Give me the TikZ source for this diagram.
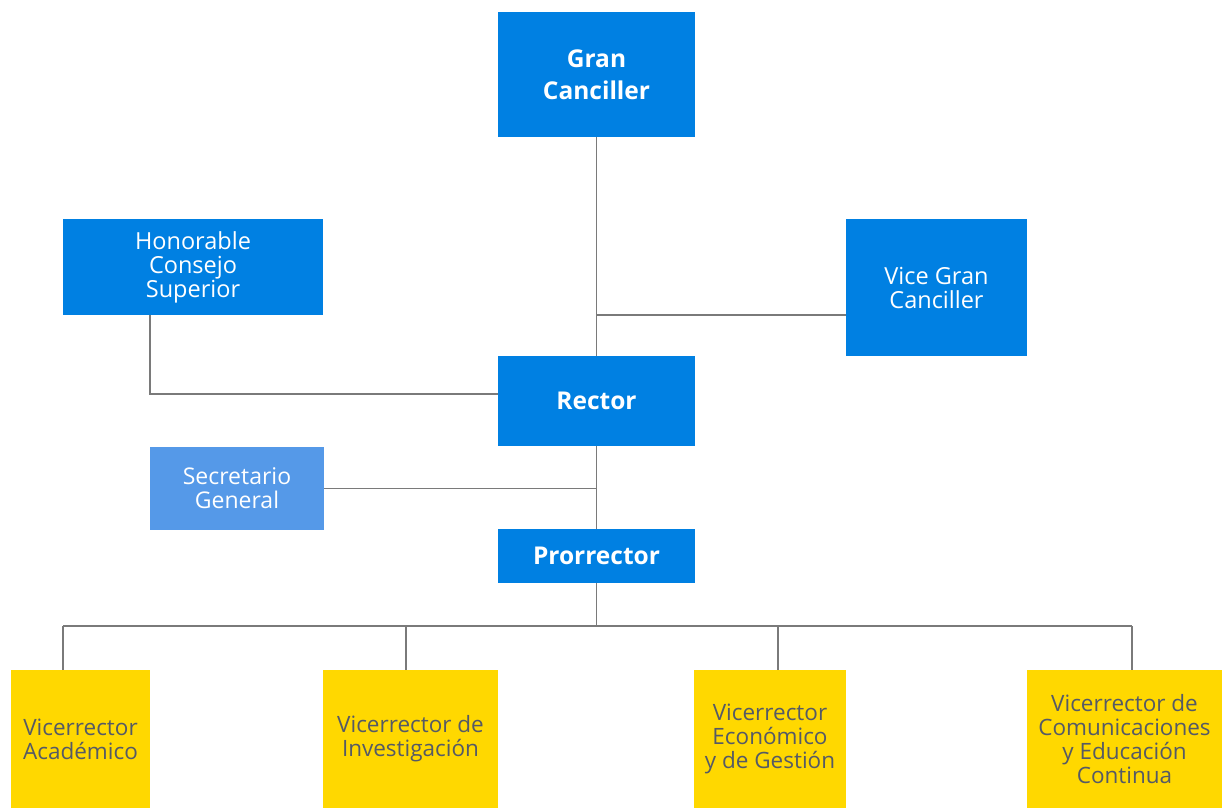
\documentclass[tikz,border=0pt]{standalone}
\usepackage{fontspec}
\setmainfont{Open Sans}
\usetikzlibrary{positioning}
\definecolor{ucblue}{HTML}{0080E2}
\definecolor{uclight}{HTML}{5599E8}
\definecolor{ucyellow}{HTML}{FFD800}
\definecolor{uctext}{HTML}{555A66}
\definecolor{ucline}{HTML}{7A7A7A}
\tikzstyle{blueblock}=[rectangle, fill=ucblue, text=white, align=center, inner sep=0pt, font=\fontsize{23.5}{24}\selectfont]
\tikzstyle{boldblock}=[blueblock, font=\fontsize{24.5}{32}\selectfont\bfseries]
\tikzstyle{lightblock}=[blueblock, fill=uclight, font=\fontsize{23}{24}\selectfont]
\tikzstyle{yellowblock}=[rectangle, fill=ucyellow, text=uctext, align=center, inner sep=0pt, minimum height=138pt, font=\fontsize{22.5}{24}\selectfont]
\tikzstyle{link}=[draw=ucline, line width=1.3pt]

\begin{document}
\begin{tikzpicture}[x=1pt, y=-1pt]
\useasboundingbox (0,0) rectangle (1222,808);

\node[boldblock, minimum width=197pt, minimum height=125pt] (gc) at (596.5,74.5) {Gran\\Canciller};
\node[blueblock, minimum width=260pt, minimum height=96pt] (hcs) at (193,267) {Honorable\\Consejo\\Superior};
\node[blueblock, minimum width=181pt, minimum height=137pt] (vgc) at (936.5,287.5) {Vice Gran\\Canciller};
\node[boldblock, minimum width=197pt, minimum height=90pt] (rec) at (596.5,401) {Rector};
\node[lightblock, minimum width=174pt, minimum height=83pt] (sg) at (237,488.5) {Secretario\\General};
\node[boldblock, minimum width=197pt, minimum height=54pt] (pro) at (596.5,556) {Prorrector};

\node[yellowblock, minimum width=139pt] (va) at (80.5,739) {Vicerrector\\Académico};
\node[yellowblock, minimum width=175pt] (vi) at (410.5,739) {Vicerrector de\\Investigación};
\node[yellowblock, minimum width=152pt] (ve) at (770,739) {Vicerrector\\Económico\\y de Gestión};
\node[yellowblock, minimum width=195pt] (vc) at (1124.5,739) {Vicerrector de\\Comunicaciones\\y Educación\\Continua};

\coordinate (hcsbend) at (150,394);
\coordinate (vgcjoin) at (596.5,315);
\coordinate (bus) at (596.5,626);
\coordinate (dva) at (63,626);
\coordinate (dvi) at (406,626);
\coordinate (dve) at (778,626);
\coordinate (dvc) at (1132,626);

\draw[link] (gc.south) -- (rec.north);
\draw[link] (vgcjoin) -- (vgcjoin -| vgc.west);
\draw[link] (hcs.south -| hcsbend) -- (hcsbend) -- (hcsbend -| rec.west);
\draw[link] (rec.south) -- (pro.north);
\draw[link] (sg.east) -- (sg.east -| rec.south);
\draw[link] (pro.south) -- (bus);
\draw[link] (dva) -- (dvc);
\draw[link] (dva) -- (dva |- va.north);
\draw[link] (dvi) -- (dvi |- vi.north);
\draw[link] (dve) -- (dve |- ve.north);
\draw[link] (dvc) -- (dvc |- vc.north);

\end{tikzpicture}
\end{document}
